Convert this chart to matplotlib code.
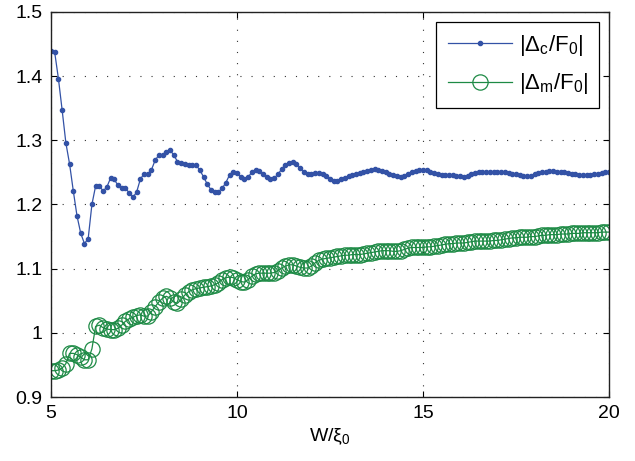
import numpy as np
import matplotlib
matplotlib.use("Agg")
import matplotlib.pyplot as plt
from matplotlib.ticker import FuncFormatter

# Strip width in units of the coherence length
w = np.round(np.arange(5.0, 20.0001, 0.1), 1)

# |Delta_c / F_0| (center gap)
delta_c = [
    1.439, 1.437, 1.396, 1.347, 1.296, 1.263, 1.221, 1.182, 1.155, 1.139,
    1.147, 1.200, 1.229, 1.229, 1.221, 1.227, 1.241, 1.239, 1.230, 1.226,
    1.226, 1.218, 1.211, 1.219, 1.239, 1.248, 1.247, 1.254, 1.269, 1.277,
    1.277, 1.282, 1.285, 1.277, 1.267, 1.264, 1.263, 1.261, 1.261, 1.261,
    1.254, 1.243, 1.232, 1.223, 1.219, 1.220, 1.225, 1.234, 1.246, 1.251,
    1.249, 1.243, 1.239, 1.243, 1.250, 1.254, 1.252, 1.247, 1.243, 1.240,
    1.241, 1.247, 1.255, 1.262, 1.265, 1.266, 1.263, 1.257, 1.251, 1.248,
    1.248, 1.249, 1.249, 1.248, 1.244, 1.239, 1.237, 1.237, 1.239, 1.242,
    1.244, 1.246, 1.248, 1.249, 1.250, 1.252, 1.254, 1.255, 1.254, 1.252,
    1.250, 1.248, 1.246, 1.244, 1.243, 1.244, 1.247, 1.250, 1.252, 1.253,
    1.254, 1.253, 1.251, 1.249, 1.247, 1.246, 1.246, 1.246, 1.246, 1.245,
    1.244, 1.243, 1.244, 1.247, 1.249, 1.250, 1.250, 1.250, 1.250, 1.250,
    1.250, 1.250, 1.250, 1.249, 1.248, 1.247, 1.246, 1.245, 1.244, 1.245,
    1.247, 1.249, 1.250, 1.251, 1.252, 1.252, 1.251, 1.250, 1.250, 1.249,
    1.248, 1.247, 1.246, 1.246, 1.246, 1.246, 1.247, 1.248, 1.249, 1.250,
    1.250,
]

# |Delta_m / F_0| (edge gap)
delta_m = [
    0.941, 0.941, 0.942, 0.945, 0.952, 0.968, 0.968, 0.966, 0.962, 0.958,
    0.958, 0.975, 1.010, 1.012, 1.008, 1.006, 1.005, 1.005, 1.007, 1.012,
    1.018, 1.022, 1.024, 1.027, 1.028, 1.026, 1.026, 1.033, 1.041, 1.048,
    1.054, 1.057, 1.054, 1.048, 1.046, 1.052, 1.059, 1.064, 1.067, 1.069,
    1.070, 1.071, 1.072, 1.073, 1.075, 1.078, 1.083, 1.086, 1.087, 1.086,
    1.083, 1.080, 1.079, 1.083, 1.088, 1.092, 1.093, 1.093, 1.093, 1.093,
    1.094, 1.097, 1.101, 1.104, 1.106, 1.106, 1.104, 1.102, 1.101, 1.101,
    1.104, 1.109, 1.113, 1.115, 1.116, 1.117, 1.118, 1.119, 1.120, 1.121,
    1.121, 1.122, 1.122, 1.122, 1.123, 1.124, 1.125, 1.126, 1.127, 1.128,
    1.128, 1.128, 1.127, 1.127, 1.128, 1.130, 1.132, 1.133, 1.133, 1.133,
    1.133, 1.134, 1.134, 1.135, 1.136, 1.137, 1.138, 1.139, 1.139, 1.140,
    1.140, 1.140, 1.141, 1.142, 1.143, 1.143, 1.143, 1.143, 1.143, 1.144,
    1.144, 1.145, 1.146, 1.147, 1.148, 1.148, 1.149, 1.149, 1.149, 1.150,
    1.150, 1.151, 1.152, 1.152, 1.153, 1.153, 1.153, 1.154, 1.154, 1.154,
    1.155, 1.155, 1.155, 1.156, 1.156, 1.156, 1.156, 1.156, 1.157, 1.157,
    1.157,
]

x_ticks = [5, 10, 15, 20]
y_ticks = [0.9, 1.0, 1.1, 1.2, 1.3, 1.4, 1.5]

plt.rcParams["font.family"] = ["Liberation Sans", "DejaVu Sans"]
plt.rcParams["mathtext.fontset"] = "custom"
plt.rcParams["mathtext.rm"] = "Liberation Sans"
plt.rcParams["mathtext.it"] = "Liberation Sans"
plt.rcParams["mathtext.bf"] = "Liberation Sans:bold"

BLUE = "#3352a6"
GREEN = "#1d8a45"

fig = plt.figure(figsize=(6.35, 4.61), dpi=100)
ax = fig.add_axes([0.0803, 0.1388, 0.8787, 0.8352])

ax.plot(w, delta_c, "-", color=BLUE, lw=0.9, marker=".", ms=6,
        label=r"$|\Delta_c/F_0|$")
ax.plot(w, delta_m, "-", color=GREEN, lw=0.9, marker="o", ms=11,
        mfc="none", mew=0.9, label=r"$|\Delta_m/F_0|$")

ax.set_xlim(5, 20)
ax.set_ylim(0.9, 1.5)
ax.set_xticks(x_ticks)
ax.set_yticks(y_ticks)
ax.yaxis.set_major_formatter(FuncFormatter(lambda v, p: f"{v:g}"))

ax.grid(True, color="#333333", linestyle=(0, (1, 9)), linewidth=0.8)
ax.tick_params(direction="in", length=4, width=0.8, top=True, right=True,
               labelsize=14, pad=6, colors="black")
for s in ax.spines.values():
    s.set_linewidth(1.0)
    s.set_color("#222222")

ax.set_xlabel(r"W/$\xi_0$", fontsize=14, labelpad=3)

leg = ax.legend(loc="upper right", fontsize=16, handlelength=2.9,
                fancybox=False, framealpha=1, edgecolor="black",
                borderpad=0.5, labelspacing=0.6, handletextpad=0.3,
                borderaxespad=0.45)
leg.get_frame().set_linewidth(0.9)

fig.savefig("out.png", dpi=100)
